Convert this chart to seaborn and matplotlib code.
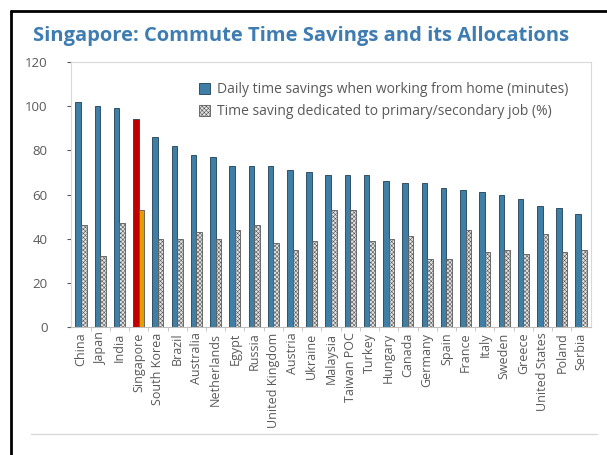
import matplotlib.pyplot as plt
import matplotlib.patches as mpatches
from matplotlib.lines import Line2D
import pandas as pd
import seaborn as sns

countries = ['China', 'Japan', 'India', 'Singapore', 'South Korea', 'Brazil', 'Australia',
             'Netherlands', 'Egypt', 'Russia', 'United Kingdom', 'Austria', 'Ukraine',
             'Malaysia', 'Taiwan POC', 'Turkey', 'Hungary', 'Canada', 'Germany', 'Spain',
             'France', 'Italy', 'Sweden', 'Greece', 'United States', 'Poland', 'Serbia']
time_savings = [102, 100, 99, 94, 86, 82, 78, 77, 73, 73, 73, 71, 70, 69, 69, 69,
                66, 65, 65, 63, 62, 61, 60, 58, 55, 54, 51]
job_share = [46, 32, 47, 53, 40, 40, 43, 40, 44, 46, 38, 35, 39, 53, 53, 39,
             40, 41, 31, 31, 44, 34, 35, 33, 42, 34, 35]

s1 = 'Daily time savings when working from home (minutes)'
s2 = 'Time saving dedicated to primary/secondary job (%)'

df = pd.DataFrame({'country': countries * 2,
                   'value': time_savings + job_share,
                   'series': [s1] * len(countries) + [s2] * len(countries)})

blue = '#3f7fa5'
gray = '#e2e2e2'
text_gray = '#595959'

sns.set_style('white')
plt.rcParams['font.family'] = ['Open Sans', 'DejaVu Sans']
plt.rcParams['hatch.color'] = '#9a9a9a'
plt.rcParams['hatch.linewidth'] = 0.4

fig = plt.figure(figsize=(6.07, 4.55), dpi=100)
ax = fig.add_axes([71 / 607, 1 - 327 / 455, 520 / 607, 265 / 455])

sns.barplot(data=df, x='country', y='value', hue='series', palette=[blue, gray],
            width=0.58, ax=ax, legend=False, saturation=1)

for bar in ax.containers[0]:
    bar.set_edgecolor('#1f3f55')
    bar.set_linewidth(0.6)
for bar in ax.containers[1]:
    bar.set_edgecolor('#595959')
    bar.set_linewidth(0.6)
    bar.set_hatch('xxxxxxxx')

sg = countries.index('Singapore')
ax.containers[0][sg].set_facecolor('#c00000')
ax.containers[1][sg].set_facecolor('#e0a000')
ax.containers[1][sg].set_hatch('')

ax.set_xlim(-0.52, len(countries) - 0.48)
ax.set_ylim(0, 120)
ax.set_yticks(range(0, 121, 20))
ax.set_xlabel('')
ax.set_ylabel('')
ax.tick_params(axis='x', rotation=90, labelsize=9, colors=text_gray, length=0, pad=4)
ax.tick_params(axis='y', labelsize=9.5, colors=text_gray, length=3, left=True, pad=14)
for sp in ax.spines.values():
    sp.set_color('#d9d9d9')
    sp.set_linewidth(0.8)
ax.spines['bottom'].set_color('#bfbfbf')
ax.set_xticks([i + 0.5 for i in range(len(countries) - 1)], minor=True)
ax.tick_params(axis='x', which='minor', bottom=True, length=3, color='#bfbfbf')

handles = [mpatches.Patch(facecolor=blue, edgecolor='#1f3f55', linewidth=0.6, label=s1),
           mpatches.Patch(facecolor=gray, edgecolor='#595959', linewidth=0.6, hatch='xxxxxxxx', label=s2)]
leg = ax.legend(handles=handles, loc='upper left', bbox_to_anchor=(0.222, 0.97), frameon=False,
                fontsize=10, handlelength=0.8, handleheight=0.8, handletextpad=0.5,
                labelspacing=0.5, labelcolor=text_gray)

fig.text(33 / 607, 1 - 36 / 455, 'Singapore: Commute Time Savings and its Allocations',
         fontsize=14.5, fontweight='bold', color='#3e7cb1', va='center', ha='left')

# outer frame (left and top) and bottom separator
fig.add_artist(Line2D([11 / 607, 11 / 607], [0, 1 - 11 / 455], color='black', linewidth=2))
fig.add_artist(Line2D([11 / 607, 1], [1 - 11 / 455, 1 - 11 / 455], color='black', linewidth=2))
fig.add_artist(Line2D([31 / 607, 597 / 607], [1 - 434 / 455, 1 - 434 / 455], color='#d9d9d9', linewidth=1))

fig.savefig('out.png', dpi=100)
